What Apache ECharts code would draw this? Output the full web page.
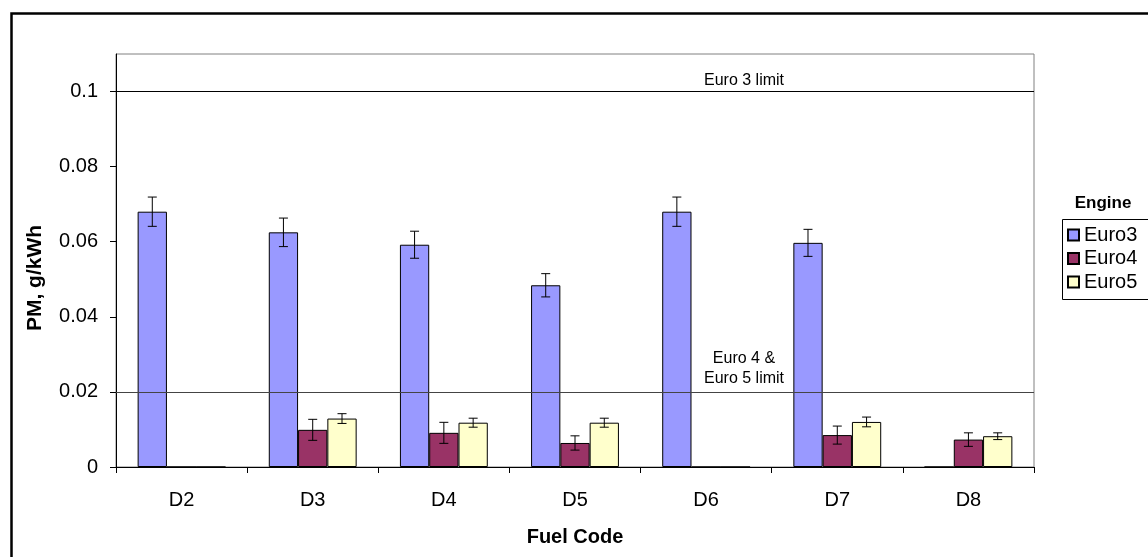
<!DOCTYPE html>
<html>
<head>
<meta charset="utf-8">
<script src="https://cdn.jsdelivr.net/npm/echarts@6/dist/echarts.min.js"></script>
<style>
html,body{margin:0;padding:0;background:#fff;}
#chart{width:1148px;height:557px;}
</style>
</head>
<body>
<div id="chart"></div>
<script>
var categories = ['D2','D3','D4','D5','D6','D7','D8'];
var seriesNames = ['Euro3','Euro4','Euro5'];
var euro3 = [0.0680, 0.0625, 0.0592, 0.0484, 0.0680, 0.0597, 0];
var euro3Err = [0.0039, 0.0038, 0.0036, 0.0031, 0.0039, 0.0036, 0];
var euro4 = [0, 0.0099, 0.0091, 0.0064, 0, 0.0085, 0.0073];
var euro4Err = [0, 0.0028, 0.0028, 0.0019, 0, 0.0024, 0.0018];
var euro5 = [0, 0.0129, 0.0118, 0.0118, 0, 0.0120, 0.0082];
var euro5Err = [0, 0.0013, 0.0012, 0.0012, 0, 0.0013, 0.0009];
var yTicks = [0, 0.02, 0.04, 0.06, 0.08, 0.1];
var limitValues = [0.1, 0.02];
var limitLabels = ['Euro 3 limit', 'Euro 4 &\nEuro 5 limit'];

var colors = ['#9999FF', '#993366', '#FFFFCC'];
var values = [euro3, euro4, euro5];
var errs = [euro3Err, euro4Err, euro5Err];
var FONT = 'Liberation Sans, Arial, sans-serif';
var GAP = 0.33;

var chart = echarts.init(document.getElementById('chart'), null, {renderer: 'canvas'});

function errRenderer(k) {
  return function (params, api) {
    var i = api.value(0), v = api.value(1), e = api.value(2);
    if (!e) return null;
    var band = api.size([1, 0])[0];
    var bw = band * (1 - GAP) / 3;
    var c = api.coord([i, v]);
    var x = c[0] + (k - 1) * bw;
    var yt = api.coord([i, v + e])[1];
    var yb = api.coord([i, v - e])[1];
    var cap = 4.5;
    var st = {stroke: '#000', lineWidth: 1};
    return {type: 'group', children: [
      {type: 'line', shape: {x1: x, y1: yt, x2: x, y2: yb}, style: st},
      {type: 'line', shape: {x1: x - cap, y1: yt, x2: x + cap, y2: yt}, style: st},
      {type: 'line', shape: {x1: x - cap, y1: yb, x2: x + cap, y2: yb}, style: st}
    ]};
  };
}

var series = [];
seriesNames.forEach(function (name, k) {
  var s = {
    name: name, type: 'bar', data: values[k],
    barGap: 0, barCategoryGap: (GAP * 100) + '%',
    itemStyle: {color: colors[k], borderColor: '#000', borderWidth: 1},
    emphasis: {disabled: true},
    animation: false
  };
  if (k === 0) {
    s.markLine = {
      silent: true, symbol: 'none', animation: false,
      data: limitValues.map(function (v, j) {
        return {
          yAxis: v,
          lineStyle: {color: j === 0 ? '#000' : '#444', width: 1, type: 'solid'},
          label: {
            show: true, position: 'middle', formatter: limitLabels[j],
            offset: [169, 0], distance: j === 0 ? 1 : 3,
            color: '#000', fontFamily: FONT, fontSize: 16, lineHeight: 20, align: 'center'
          }
        };
      })
    };
  }
  series.push(s);
});
seriesNames.forEach(function (name, k) {
  series.push({
    type: 'custom', name: name + ' error',
    data: values[k].map(function (v, i) { return [i, v, errs[k][i]]; }),
    encode: {x: 0, y: 1},
    renderItem: errRenderer(k),
    silent: true, animation: false, z: 5, legendHoverLink: false
  });
});

chart.setOption({
  backgroundColor: '#fff',
  animation: false,
  textStyle: {fontFamily: FONT},
  grid: {left: 116, top: 54, width: 918, height: 413, show: true, borderColor: '#808080', borderWidth: 1, backgroundColor: 'transparent'},
  legend: {
    data: seriesNames,
    orient: 'vertical', left: 1067, top: 225, padding: 0,
    itemWidth: 11, itemHeight: 11, itemGap: 3.5,
    icon: 'rect',
    textStyle: {fontFamily: FONT, fontSize: 20, color: '#000', lineHeight: 20, padding: [0, 0, 0, 0]},
    selectedMode: false
  },
  xAxis: {
    type: 'category', data: categories,
    axisLine: {lineStyle: {color: '#000', width: 1}},
    axisTick: {show: true, length: 6, lineStyle: {color: '#000'}},
    axisLabel: {color: '#000', fontSize: 20, fontFamily: FONT, margin: 23},
    splitLine: {show: false}
  },
  yAxis: {
    type: 'value', min: 0, max: 0.11,
    axisLine: {show: true, lineStyle: {color: '#000', width: 1}},
    axisTick: {show: true, length: 6, lineStyle: {color: '#000'}, customValues: yTicks},
    axisLabel: {color: '#000', fontSize: 20, fontFamily: FONT, margin: 18, customValues: yTicks,
      formatter: function (v) { return String(v); }},
    splitLine: {show: false}
  },
  graphic: [
    {type: 'rect', left: 9, top: 11, shape: {x: 0, y: 0, width: 1200, height: 600}, style: {fill: 'none', stroke: '#000', lineWidth: 2.5}, z: 100, silent: true},
    {type: 'text', x: 35, y: 278, rotation: Math.PI / 2, style: {text: 'PM, g/kWh', fontFamily: FONT, fontSize: 21, fontWeight: 'bold', fill: '#000', align: 'center', verticalAlign: 'middle'}},
    {type: 'text', x: 575, y: 537, style: {text: 'Fuel Code', fontFamily: FONT, fontSize: 20, fontWeight: 'bold', fill: '#000', align: 'center', verticalAlign: 'middle'}},
    {type: 'text', x: 1103, y: 203, style: {text: 'Engine', fontFamily: FONT, fontSize: 17, fontWeight: 'bold', fill: '#000', align: 'center', verticalAlign: 'middle'}},
    {type: 'rect', left: 1060, top: 217, shape: {x: 0, y: 0, width: 120, height: 80}, style: {fill: 'none', stroke: '#000', lineWidth: 1}, z: 1, silent: true}
  ],
  series: series
});
</script>
</body>
</html>
